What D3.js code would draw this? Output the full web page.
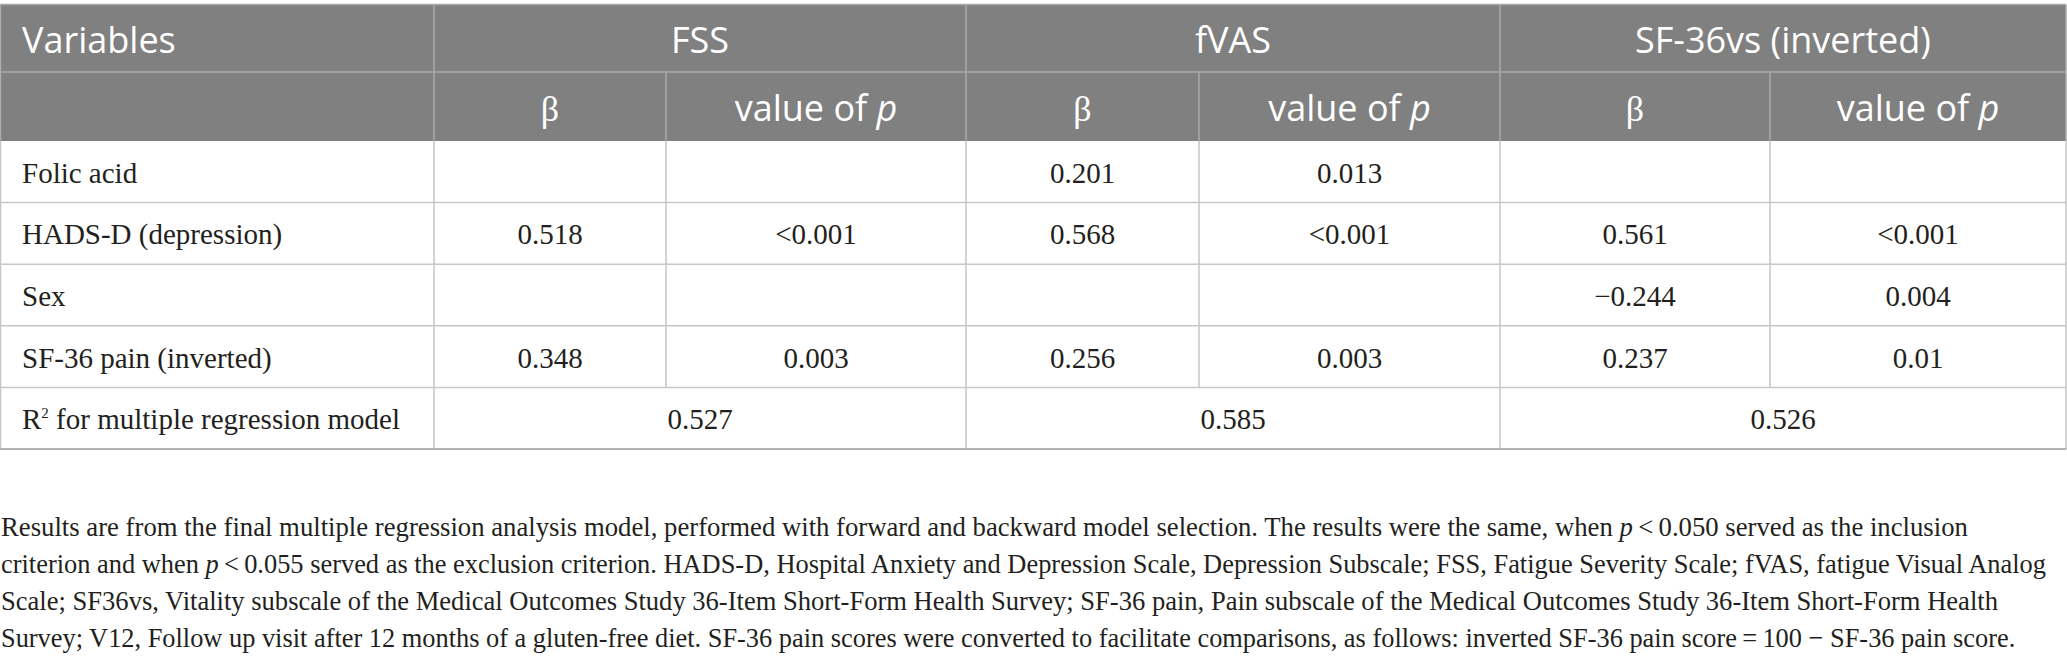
<!DOCTYPE html>
<html>
<head>
<meta charset="utf-8">
<script src="https://cdn.jsdelivr.net/npm/d3@7"></script>
<style>
  html, body { margin: 0; padding: 0; background: #fff; }
  svg { display: block; }
</style>
</head>
<body>
<div id="chart"></div>
<script>
// table content
const groups = ['FSS', 'fVAS', 'SF-36vs (inverted)'];
const variables = ['Folic acid', 'HADS-D (depression)', 'Sex', 'SF-36 pain (inverted)'];
const fssBeta = ['', '0.518', '', '0.348'];
const fssP = ['', '<0.001', '', '0.003'];
const fvasBeta = ['0.201', '0.568', '', '0.256'];
const fvasP = ['0.013', '<0.001', '', '0.003'];
const sfBeta = ['', '0.561', '\u22120.244', '0.237'];
const sfP = ['', '<0.001', '0.004', '0.01'];
const rSquared = ['0.527', '0.585', '0.526'];
const footLines = [
  ['Results are from the final multiple regression analysis model, performed with forward and backward model selection. The results were the same, when ', {i: 'p'}, '\u2009<\u20090.050 served as the inclusion'],
  ['criterion and when ', {i: 'p'}, '\u2009<\u20090.055 served as the exclusion criterion. HADS-D, Hospital Anxiety and Depression Scale, Depression Subscale; FSS, Fatigue Severity Scale; fVAS, fatigue Visual Analog'],
  ['Scale; SF36vs, Vitality subscale of the Medical Outcomes Study 36-Item Short-Form Health Survey; SF-36 pain, Pain subscale of the Medical Outcomes Study 36-Item Short-Form Health'],
  ['Survey; V12, Follow up visit after 12 months of a gluten-free diet. SF-36 pain scores were converted to facilitate comparisons, as follows: inverted SF-36 pain score\u2009=\u2009100 \u2212 SF-36 pain score.']
];

const width = 2067, height = 666;
const colEdges = [0.5, 434, 666, 966, 1199, 1500, 1770, 2066];
const headTop = 4.5, headMid = 72, headBottom = 141, tableBottom = 449;
const footEnds = [1968, 2047, 1999, 2016];
const footY0 = 536, footStep = 37;

const headFill = '#7f807f', headLine = '#a9aaa9', bodyLine = '#c6c6c6', ink = '#231f20';
const sansFont = '"Open Sans", sans-serif';
const serifFont = '"Liberation Serif", "Times New Roman", serif';

const svg = d3.select('#chart').append('svg')
  .attr('width', width)
  .attr('height', height);

// row scale for body rows (4 variables + R² row)
const rowKeys = variables.concat(['r2']);
const y = d3.scaleBand().domain(rowKeys).range([headBottom, tableBottom]);
const cols = d3.range(7);
const colX = i => colEdges[i];
const colMid = i => (colEdges[i] + colEdges[i + 1]) / 2;

// header background
svg.append('rect')
  .attr('x', colEdges[0]).attr('y', headTop)
  .attr('width', colEdges[7] - colEdges[0]).attr('height', headBottom - headTop)
  .attr('fill', headFill);

// header lines
const hl = svg.append('g').attr('stroke', headLine).attr('stroke-width', 1.5);
hl.append('line').attr('x1', 0).attr('x2', colEdges[7]).attr('y1', headTop).attr('y2', headTop);
hl.append('line').attr('x1', 0).attr('x2', colEdges[7]).attr('y1', headMid).attr('y2', headMid);
hl.selectAll('line.v1').data([0, 1, 3, 5, 7]).enter().append('line')
  .attr('x1', colX).attr('x2', colX).attr('y1', headTop).attr('y2', headMid);
hl.selectAll('line.v2').data(d3.range(8)).enter().append('line')
  .attr('x1', colX).attr('x2', colX).attr('y1', headMid).attr('y2', headBottom);

// header texts
svg.append('text')
  .attr('x', 22).attr('y', 53)
  .attr('font-family', sansFont).attr('font-size', 36).attr('fill', '#fff')
  .text('Variables');

svg.selectAll('text.grp').data(groups).enter().append('text')
  .attr('class', 'grp')
  .attr('x', (d, i) => (colEdges[1 + 2 * i] + colEdges[3 + 2 * i]) / 2)
  .attr('y', 53)
  .attr('text-anchor', 'middle')
  .attr('font-family', sansFont).attr('font-size', 36).attr('fill', '#fff')
  .text(d => d);

cols.slice(1).forEach(c => {
  const t = svg.append('text')
    .attr('x', colMid(c)).attr('y', 121)
    .attr('text-anchor', 'middle')
    .attr('fill', '#fff').attr('font-size', 36);
  if (c % 2 === 1) {
    t.attr('font-family', serifFont).text('\u03b2');
  } else {
    t.attr('font-family', sansFont);
    t.append('tspan').text('value of ');
    t.append('tspan').attr('font-style', 'italic').text('p');
  }
});

// body lines
const bl = svg.append('g').attr('stroke', bodyLine).attr('stroke-width', 1.5);
rowKeys.forEach(r => {
  bl.append('line').attr('x1', 0).attr('x2', colEdges[7])
    .attr('y1', y(r) + y.bandwidth()).attr('y2', y(r) + y.bandwidth());
});
bl.selectAll('line.v').data(d3.range(8)).enter().append('line')
  .attr('x1', colX).attr('x2', colX)
  .attr('y1', headBottom).attr('y2', y('r2'));
bl.selectAll('line.vr').data([0, 1, 3, 5, 7]).enter().append('line')
  .attr('x1', colX).attr('x2', colX)
  .attr('y1', y('r2')).attr('y2', tableBottom);
svg.append('line')
  .attr('x1', 0).attr('x2', colEdges[7] + 0.5)
  .attr('y1', tableBottom).attr('y2', tableBottom)
  .attr('stroke', '#b3b3b3').attr('stroke-width', 2);

// body texts
const body = svg.append('g')
  .attr('font-family', serifFont).attr('font-size', 29).attr('fill', ink);
const rowY = r => y(r) + y.bandwidth() / 2 + 11;

body.selectAll('text.var').data(variables).enter().append('text')
  .attr('x', 22).attr('y', d => rowY(d))
  .text(d => d);

const series = [fssBeta, fssP, fvasBeta, fvasP, sfBeta, sfP];
series.forEach((vals, si) => {
  body.selectAll(null).data(vals).enter().append('text')
    .attr('x', colMid(si + 1))
    .attr('y', (d, i) => rowY(variables[i]))
    .attr('text-anchor', 'middle')
    .text(d => d);
});

const r2 = body.append('text').attr('x', 22).attr('y', rowY('r2'));
r2.append('tspan').text('R');
r2.append('tspan').attr('font-size', 15).attr('dy', -11).text('2');
r2.append('tspan').attr('dy', 11).text(' for multiple regression model');

body.selectAll('text.r2v').data(rSquared).enter().append('text')
  .attr('x', (d, i) => (colEdges[1 + 2 * i] + colEdges[3 + 2 * i]) / 2)
  .attr('y', rowY('r2'))
  .attr('text-anchor', 'middle')
  .text(d => d);

// footnote
const foot = svg.append('g')
  .attr('font-family', serifFont).attr('font-size', 28).attr('fill', ink);
footLines.forEach((parts, li) => {
  const t = foot.append('text').attr('x', 0).attr('y', 0);
  parts.forEach(p => {
    if (typeof p === 'string') t.append('tspan').text(p);
    else t.append('tspan').attr('font-style', 'italic').text(p.i);
  });
  const len = t.node().getComputedTextLength();
  const k = (footEnds[li] - 1) / len;
  t.attr('transform', `translate(1,${footY0 + li * footStep}) scale(${k},1)`);
});
</script>
</body>
</html>
